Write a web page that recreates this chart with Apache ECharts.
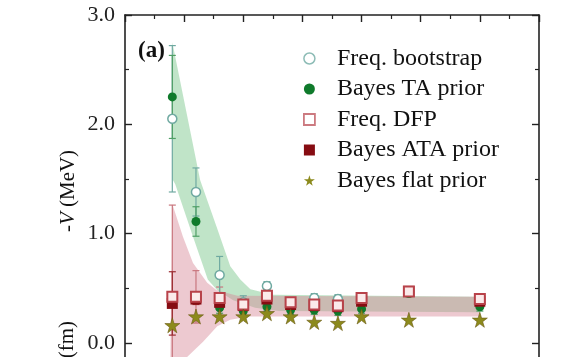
<!DOCTYPE html>
<html><head><meta charset="utf-8">
<script src="https://cdn.jsdelivr.net/npm/echarts@6/dist/echarts.min.js"></script>
<style>html,body{margin:0;padding:0;background:#fff}#c{width:575px;height:357px}</style>
</head><body><div id="c"></div>
<script>
// ---- data ----
const xs = [0.8, 1.2, 1.6, 2.0, 2.4, 2.8, 3.2, 3.6, 4.0, 4.8, 6.0];
const freqBootstrap = [2.05, 1.38, 0.62, 0.37, 0.52, 0.36, 0.41, 0.40, 0.40, 0.47, 0.38];
const freqBootstrapErr = [0.67, 0.22, 0.17, 0.06, 0.04, 0.04, 0.04, 0.04, 0.04, 0.03, 0.04];
const bayesTA = [2.25, 1.11, 0.32, 0.29, 0.33, 0.30, 0.30, 0.29, 0.31, 0.45, 0.33];
const bayesTAErr = [0.38, 0.135, 0.05, 0.04, 0.04, 0.04, 0.04, 0.04, 0.04, 0.03, 0.04];
const freqDFP = [0.42, 0.42, 0.41, 0.35, 0.43, 0.37, 0.35, 0.34, 0.41, 0.47, 0.40];
const freqDFPErr = [0.84, 0.24, 0.10, 0.05, 0.05, 0.04, 0.04, 0.04, 0.04, 0.03, 0.04];
const bayesATA = [0.36, 0.40, 0.37, 0.34, 0.40, 0.35, 0.34, 0.33, 0.38, 0.47, 0.38];
const bayesATAErr = [0.29, 0.05, 0.05, 0.04, 0.04, 0.04, 0.04, 0.04, 0.04, 0.03, 0.04];
const bayesFlat = [0.16, 0.24, 0.24, 0.24, 0.27, 0.24, 0.19, 0.18, 0.24, 0.21, 0.21];
// credible bands (edges read as [x, y])
const taBandUpper = [[0.8, 2.75], [1.27, 1.49], [1.55, 1.06], [1.78, 0.70], [1.95, 0.58], [2.12, 0.49], [2.5, 0.44], [6.0, 0.42]];
const taBandLower = [[0.8, 1.5], [0.85, 1.45], [1.15, 0.97], [1.4, 0.58], [1.56, 0.48], [1.83, 0.39], [2.2, 0.32], [2.6, 0.29], [6.0, 0.28]];
const ataBandUpper = [[0.8, 1.27], [0.98, 0.97], [1.15, 0.73], [1.39, 0.55], [1.55, 0.48], [1.9, 0.43], [6.0, 0.42]];
const ataBandLower = [[0.76, -0.45], [0.8, -0.45], [1.05, -0.13], [1.32, 0.01], [1.56, 0.15], [1.78, 0.21], [2.1, 0.24], [6.0, 0.24]];
const yTicks = [-1, 0, 1, 2, 3];
const legendNames = ['Freq. bootstrap', 'Bayes TA prior', 'Freq. DFP', 'Bayes ATA prior', 'Bayes flat prior'];

const FONT = 'Liberation Serif';
const STAR = 'path://M50,0 L61,35 L98,35 L68,57 L79,91 L50,70 L21,91 L32,57 L2,35 L39,35 Z';
const C = {boot: '#6fa9a1', ta: '#0f7a2b', dfp: '#b8424a', ata: '#860c12', flat: '#8c8a1c'};

function pts(vals) { return xs.map((x, i) => [x, vals[i]]); }
function errData(vals, errs) { return xs.map((x, i) => [x, vals[i] - errs[i], vals[i] + errs[i]]); }

function errSeries(vals, errs, color, z) {
  return {
    type: 'custom', z: z, silent: true,
    data: errData(vals, errs),
    encode: {x: 0, y: [1, 2]},
    renderItem: function (params, api) {
      const x = api.value(0), lo = api.value(1), hi = api.value(2);
      const a = api.coord([x, hi]), b = api.coord([x, lo]);
      const w = 3.5;
      const st = {stroke: color, lineWidth: 1.2};
      return {type: 'group', children: [
        {type: 'line', shape: {x1: a[0], y1: a[1], x2: b[0], y2: b[1]}, style: st},
        {type: 'line', shape: {x1: a[0] - w, y1: a[1], x2: a[0] + w, y2: a[1]}, style: st},
        {type: 'line', shape: {x1: b[0] - w, y1: b[1], x2: b[0] + w, y2: b[1]}, style: st}
      ]};
    }
  };
}
function bandSeries(upper, lower, fill, z) {
  return {
    type: 'custom', z: z, silent: true,
    data: upper.concat(lower),
    encode: {x: 0, y: 1},
    renderItem: function (params, api) {
      if (params.dataIndex !== 0) return null;
      const poly = upper.map(p => api.coord(p)).concat(lower.slice().reverse().map(p => api.coord(p)));
      return {type: 'polygon', shape: {points: poly}, style: {fill: fill, stroke: null}};
    }
  };
}

const chart = echarts.init(document.getElementById('c'), null, {renderer: 'canvas'});
const axisLine = {show: true, onZero: false, lineStyle: {color: '#222', width: 1.6}};
const tick = {inside: true, length: 7, lineStyle: {color: '#222', width: 1.4}};
const minor = {show: true, splitNumber: 2, length: 4, lineStyle: {color: '#222', width: 1.2}};
chart.setOption({
  backgroundColor: '#fff',
  animation: false,
  textStyle: {fontFamily: FONT},
  grid: {left: 125, right: 36, top: 15, height: 437, outerBoundsMode: 'none'},
  xAxis: [
    {type: 'value', min: 0, max: 7, interval: 1, position: 'bottom',
     axisLine: axisLine, axisTick: tick, minorTick: minor,
     axisLabel: {show: false}, splitLine: {show: false}},
    {type: 'value', min: 0, max: 7, interval: 1, position: 'top',
     axisLine: axisLine, axisTick: tick, minorTick: minor,
     axisLabel: {show: false}, splitLine: {show: false}}
  ],
  yAxis: [
    {type: 'value', min: yTicks[0], max: yTicks[yTicks.length - 1], interval: 1, position: 'left',
     axisLine: axisLine, axisTick: tick, minorTick: minor,
     axisLabel: {fontFamily: FONT, fontSize: 22, color: '#222', margin: 10, formatter: v => v.toFixed(1)},
     splitLine: {show: false}},
    {type: 'value', min: yTicks[0], max: yTicks[yTicks.length - 1], interval: 1, position: 'right',
     axisLine: axisLine, axisTick: tick, minorTick: minor,
     axisLabel: {show: false}, splitLine: {show: false}}
  ],
  legend: {
    orient: 'vertical', left: 303, top: 46.5, padding: 0, itemGap: 6.5,
    itemWidth: 11, itemHeight: 11,
    textStyle: {fontFamily: FONT, fontSize: 24, lineHeight: 24, color: '#111', padding: [0, 0, 0, 17]},
    data: [
      {name: legendNames[0], icon: 'circle', itemStyle: {color: '#fff', borderColor: '#8dbcb6', borderWidth: 1.5}},
      {name: legendNames[1], icon: 'circle', itemStyle: {color: C.ta, borderWidth: 0}},
      {name: legendNames[2], icon: 'rect', itemStyle: {color: '#fff', borderColor: '#cc7a80', borderWidth: 1.8}},
      {name: legendNames[3], icon: 'rect', itemStyle: {color: C.ata, borderWidth: 0}},
      {name: legendNames[4], icon: STAR, itemStyle: {color: C.flat, borderWidth: 0}}
    ]
  },
  graphic: [
    {type: 'text', x: 138, y: 51, style: {text: '(a)', font: 'bold 23px "Liberation Serif"', fill: '#111', verticalAlign: 'middle'}},
    {type: 'text', x: 68, y: 191, rotation: Math.PI / 2,
     style: {text: '-{i|V} (MeV)', fontFamily: FONT, fontSize: 21, fill: '#111', align: 'center', verticalAlign: 'middle',
             rich: {i: {fontFamily: FONT, fontSize: 21, fontStyle: 'italic', fill: '#111'}}}},
    {type: 'text', x: 67, y: 321, rotation: Math.PI / 2,
     style: {text: 'r (fm)', fontFamily: FONT, fontSize: 21, fill: '#111', align: 'right', verticalAlign: 'middle'}}
  ],
  series: [
    bandSeries(taBandUpper, taBandLower, 'rgba(140,205,155,0.55)', 1),
    bandSeries(ataBandUpper, ataBandLower, 'rgba(215,135,150,0.45)', 2),
    errSeries(freqDFP, freqDFPErr, '#c9767e', 3),
    errSeries(bayesATA, bayesATAErr, '#9a2a30', 3),
    errSeries(freqBootstrap, freqBootstrapErr, '#6fa9a1', 3),
    errSeries(bayesTA, bayesTAErr, '#4f9f65', 3),
    {name: legendNames[1], type: 'scatter', z: 4, data: pts(bayesTA), symbol: 'circle', symbolSize: 9,
     itemStyle: {color: C.ta, opacity: 1}},
    {name: legendNames[0], type: 'scatter', z: 5, data: pts(freqBootstrap), symbol: 'circle', symbolSize: 9,
     itemStyle: {color: '#fff', borderColor: C.boot, borderWidth: 1.5, opacity: 1}},
    {name: legendNames[3], type: 'scatter', z: 6, data: pts(bayesATA), symbol: 'rect', symbolSize: 11,
     itemStyle: {color: C.ata, opacity: 1}},
    {name: legendNames[2], type: 'scatter', z: 7, data: pts(freqDFP), symbol: 'rect', symbolSize: 10,
     itemStyle: {color: '#fbeaea', borderColor: C.dfp, borderWidth: 2, opacity: 1}},
    {name: legendNames[4], type: 'scatter', z: 8, data: pts(bayesFlat), symbol: STAR, symbolSize: 15,
     itemStyle: {color: C.flat, borderColor: '#6b5a14', borderWidth: 0.6, opacity: 1}}
  ]
});
</script></body></html>
